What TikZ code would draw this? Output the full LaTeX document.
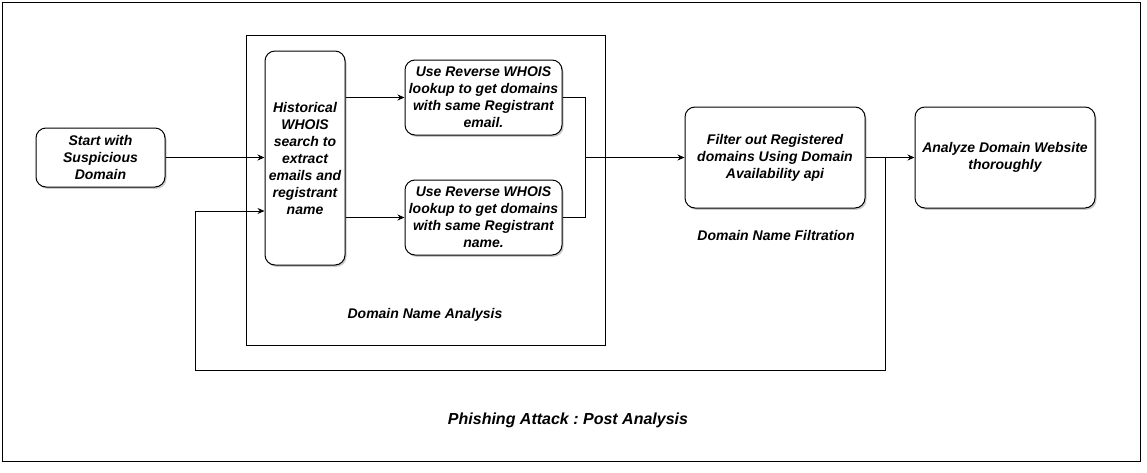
\documentclass[tikz,border=0pt]{standalone}
\usepackage{fontspec}
\setsansfont{Liberation Sans}
\usetikzlibrary{arrows.meta,positioning,shadows,calc}
\tikzset{
  stepbox/.style={draw=black,line width=1pt,fill=white,rounded corners=10pt,align=center,inner sep=1pt,
              font=\sffamily\bfseries\itshape\fontsize{14}{17}\selectfont,
              drop shadow={shadow xshift=1.5pt,shadow yshift=-1.8pt,opacity=0.35,fill=black!60}},
  groupbox/.style={draw=black,line width=1pt},
  flow/.style={-{Stealth[length=7pt,width=6pt]},line width=1pt},
  link/.style={line width=1pt},
  grouplbl/.style={font=\sffamily\bfseries\itshape\fontsize{14}{16}\selectfont,inner sep=1pt},
  titlelbl/.style={font=\sffamily\bfseries\itshape\fontsize{16}{19}\selectfont,inner sep=1pt},
}
\begin{document}
\frenchspacing
\begin{tikzpicture}[x=1pt,y=-1pt]
  \useasboundingbox (0,0) rectangle (1147,472);
  % Outer frame and the analysis group.
  \node[groupbox,minimum width=1138pt,minimum height=459pt] (page) at (571,231.5) {};
  \node[groupbox,minimum width=359pt,minimum height=310pt] (analysis) at (425.5,190) {};

  % Steps.
  \node[stepbox,minimum width=129pt,minimum height=59pt] (start) at (100.5,157.5) {Start with\\Suspicious\\Domain};
  \node[stepbox,minimum width=80pt,minimum height=214pt] (hist) at (305,158) {Historical\\WHOIS\\search to\\extract\\emails and\\registrant\\name};
  \node[stepbox,minimum width=157pt,minimum height=75pt] (revmail) at (483.5,97.5) {Use Reverse WHOIS\\lookup to get domains\\with same Registrant\\email.};
  \node[stepbox,minimum width=157pt,minimum height=75pt] (revname) at (483.5,217.5) {Use Reverse WHOIS\\lookup to get domains\\with same Registrant\\name.};
  \node[stepbox,minimum width=180pt,minimum height=101pt] (filter) at (775,157.5) {Filter out Registered\\domains Using Domain\\Availability api};
  \node[stepbox,minimum width=180pt,minimum height=101pt] (analyze) at (1005,157.5) {Analyze Domain Website\\thoroughly};

  % Labels.
  \node[grouplbl] (analysislbl) at (425,315) {Domain Name Analysis};
  \node[grouplbl] (filterlbl) at (776,235) {Domain Name Filtration};
  \node[titlelbl] (title) at (568,420) {Phishing Attack : Post Analysis};

  \draw[flow] (start.east) -- (start.east -| hist.west);
  \draw[flow] (hist.east |- revmail.west) -- (revmail.west);
  \draw[flow] (hist.east |- revname.west) -- (revname.west);
  \draw[link] (revmail.east) -- ++(23,0) coordinate (join) |- (revname.east);
  \draw[flow] (join |- filter.west) -- (filter.west);
  \draw[flow] (filter) -- (analyze);
  % Feedback loop back into the WHOIS search.
  \coordinate (tap) at ($(filter.east)!0.4!(analyze.west)$);
  \coordinate (loopbot) at (885,370);
  \coordinate (loopin) at (195,211);
  \draw[flow] (tap) -- (tap |- loopbot) -| (loopin) -- (loopin -| hist.west);
\end{tikzpicture}
\end{document}
